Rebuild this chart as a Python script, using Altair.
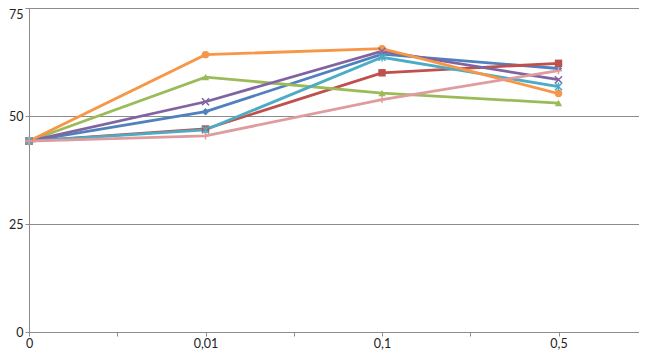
import altair as alt
import pandas as pd

categories = ["0", "0,01", "0,1", "0,5"]
series_names = ["S1", "S2", "S3", "S4", "S5", "S6", "S7"]
s1_blue = [44.2, 51.0, 64.3, 61.0]
s2_red = [44.2, 47.0, 60.0, 62.2]
s3_green = [44.2, 59.0, 55.3, 53.0]
s4_purple = [44.2, 53.3, 65.0, 58.4]
s5_cyan = [44.2, 46.8, 63.6, 56.8]
s6_orange = [44.2, 64.2, 65.6, 55.2]
s7_pink = [44.2, 45.4, 53.8, 60.5]
colors = ["#4F81BD", "#C0504D", "#9BBB59", "#8064A2", "#4BACC6", "#F79646", "#DE9C9E"]
all_values = [s1_blue, s2_red, s3_green, s4_purple, s5_cyan, s6_orange, s7_pink]

rows = []
for si, (name, vals) in enumerate(zip(series_names, all_values)):
    for ci, v in enumerate(vals):
        rows.append({"series": name, "order": si, "xi": ci, "cat": categories[ci], "value": v})
df = pd.DataFrame(rows)

label_expr = ("datum.value == 0 ? '0' : datum.value == 1 ? '0,01' : "
              "datum.value == 2 ? '0,1' : datum.value == 3 ? '0,5' : ''")

x_enc = alt.X("xi:Q", scale=alt.Scale(domain=[0, 3.456], nice=False, zero=True),
              axis=alt.Axis(values=[0, 0.5, 1, 1.5, 2, 2.5, 3], labelExpr=label_expr,
                            grid=False, title=None, domainColor="#8c8c8c", tickColor="#8c8c8c",
                            tickSize=4, labelFontSize=12.5, labelColor="#222222", labelPadding=1,
                            labelFont="Lato", labelFlush=False))
y_enc = alt.Y("value:Q", scale=alt.Scale(domain=[0, 75], nice=False),
              axis=alt.Axis(values=[0, 25, 50, 75], grid=True, gridColor="#8c8c8c", title=None,
                            domainColor="#8c8c8c", tickColor="#8c8c8c", tickSize=4,
                            labelFontSize=12.5, labelColor="#222222", labelPadding=2,
                            labelFont="Lato", labelFlush=False,
                            labelBaseline={"condition": {"test": "datum.value == 75", "value": "top"},
                                           "value": "middle"}))

color_scale = alt.Scale(domain=series_names, range=colors)

lines = alt.Chart(df).mark_line(strokeWidth=2.8).encode(
    x=x_enc, y=y_enc,
    color=alt.Color("series:N", scale=color_scale, legend=None),
    order=alt.Order("xi:Q"),
)

filled_series = ["S1", "S2", "S3", "S6"]
filled_shapes = ["diamond", "square", "triangle-up", "circle"]
filled = alt.Chart(df).transform_filter(
    alt.FieldOneOfPredicate(field="series", oneOf=filled_series)
).mark_point(filled=True, size=55, opacity=1).encode(
    x=x_enc, y=y_enc,
    color=alt.Color("series:N", scale=color_scale, legend=None),
    shape=alt.Shape("series:N", scale=alt.Scale(domain=filled_series, range=filled_shapes), legend=None),
)

stroked_series = ["S4", "S5", "S7"]
stroked_shapes = ["M-1,-1L1,1M-1,1L1,-1",
                  "M-1,-1L1,1M-1,1L1,-1M0,-1.2L0,1.2",
                  "M-1,0L1,0M0,-1L0,1"]
stroked = alt.Chart(df).transform_filter(
    alt.FieldOneOfPredicate(field="series", oneOf=stroked_series)
).mark_point(filled=False, size=50, strokeWidth=1.5, opacity=1).encode(
    x=x_enc, y=y_enc,
    color=alt.Color("series:N", scale=color_scale, legend=None),
    shape=alt.Shape("series:N", scale=alt.Scale(domain=stroked_series, range=stroked_shapes), legend=None),
)

chart = alt.layer(lines, filled, stroked).resolve_scale(shape="independent").properties(
    width=610, height=324,
    autosize=alt.AutoSizeParams(type="none"),
    padding={"left": 21, "top": 0, "right": 0, "bottom": 19},
).configure_view(stroke=None).configure(background="white")

chart.save("out.html", embed_options={"renderer": "svg", "actions": False})
